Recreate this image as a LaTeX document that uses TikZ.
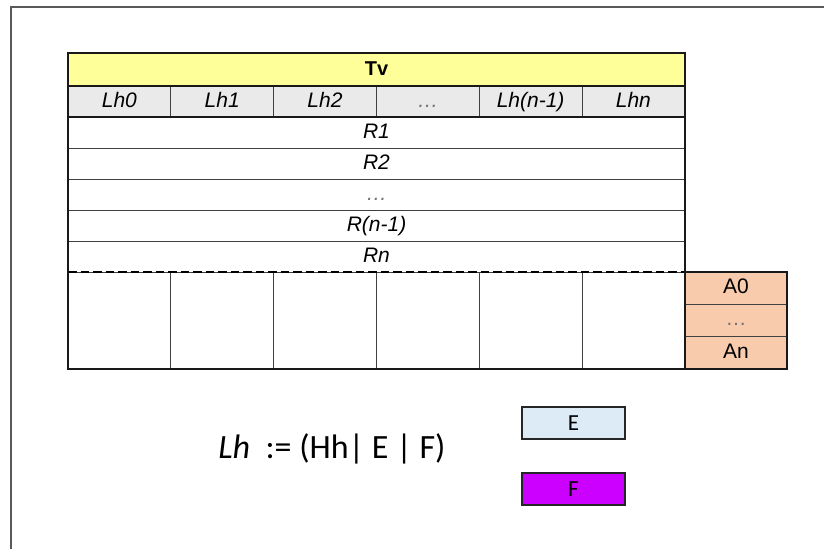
\documentclass[tikz,border=0pt]{standalone}
\usepackage{fontspec}
\setmainfont{Liberation Sans}
\newfontfamily\calibri{Carlito}
\usepackage{tikz}
\usetikzlibrary{positioning}

\definecolor{tvyellow}{HTML}{FFFF99}
\definecolor{lhgray}{HTML}{EAEAEA}
\definecolor{apeach}{HTML}{F8CBAD}
\definecolor{eblue}{HTML}{DDEBF7}
\definecolor{fpurple}{HTML}{CC00FF}

\begin{document}
\begin{tikzpicture}[
  x=1pt, y=-1pt,
  cell/.style={rectangle, draw=black!75, line width=0.9pt, fill=#1,
               minimum width=102.8pt, minimum height=31pt,
               inner sep=0pt, outer sep=0pt,
               text height=15pt, text depth=4pt,
               font=\fontsize{21}{24}\selectfont\itshape},
  cell/.default={white},
  rowcell/.style={cell=#1, minimum width=617pt},
  rowcell/.default={white},
  slot/.style={rectangle, minimum width=102.8pt, minimum height=97pt,
               inner sep=0pt, outer sep=0pt},
  acell/.style={cell=apeach, minimum width=102pt, minimum height=32.3pt,
                font=\fontsize{21}{24}\selectfont},
  legend/.style={rectangle, draw=black!85, line width=2pt, fill=#1,
                 minimum width=103pt, minimum height=32pt,
                 inner sep=0pt, font=\calibri\fontsize{23}{27}\selectfont},
  outer/.style={line width=2pt, black!90},
  grid/.style={line width=0.9pt, black!75},
  dashline/.style={line width=2.2pt, dash pattern=on 8.5pt off 4pt},
  frame/.style={line width=1.8pt, black!65},
  dots/.style={text=black!55}
]
  \useasboundingbox (0,0) rectangle (824,549);
  \draw[frame] (824,7) -- (11,7) -- (11,549);

  % header
  \node[rowcell=tvyellow, minimum height=33pt, anchor=north west,
        font=\fontsize{20}{24}\selectfont\bfseries] (tv) at (68,53) {Tv};
  \node[cell=lhgray, anchor=north west] (lh0) at (tv.south west) {Lh0};
  \node[cell=lhgray, right=0pt of lh0] (lh1) {Lh1};
  \node[cell=lhgray, right=0pt of lh1] (lh2) {Lh2};
  \node[cell=lhgray, right=0pt of lh2, dots] (lhd) {\dots};
  \node[cell=lhgray, right=0pt of lhd] (lhm) {Lh(n-1)};
  \node[cell=lhgray, right=0pt of lhm] (lhn) {Lhn};

  % rows
  \node[rowcell, anchor=north west] (r1) at (lh0.south west) {R1};
  \node[rowcell, below=0pt of r1] (r2) {R2};
  \node[rowcell, below=0pt of r2, dots] (rd) {\dots};
  \node[rowcell, below=0pt of rd] (rm) {R(n-1)};
  \node[rowcell, below=0pt of rm] (rn) {Rn};

  % open slots under the dashed line
  \node[slot, anchor=north west] (b0) at (rn.south west) {};
  \node[slot, right=0pt of b0] (b1) {};
  \node[slot, right=0pt of b1] (b2) {};
  \node[slot, right=0pt of b2] (b3) {};
  \node[slot, right=0pt of b3] (b4) {};
  \node[slot, right=0pt of b4] (b5) {};
  \foreach \i in {0,...,4}
    \draw[grid] (b\i.north east) -- (b\i.south east);

  % side column
  \node[acell, anchor=north west] (a0) at (rn.south east) {A0};
  \node[acell, below=0pt of a0, dots] (ad) {\dots};
  \node[acell, below=0pt of ad] (an) {An};

  \draw[dashline] (b0.north west) -- (b5.north east);
  \draw[outer] (tv.south west) -- (tv.south east);
  \draw[outer] (lh0.south west) -- (lhn.south east);
  \draw[outer] (tv.north west) rectangle (b5.south east);
  \draw[outer] (a0.north west) rectangle (an.south east);

  % definition and legend
  \node[font=\calibri\fontsize{34}{40}\selectfont] (rule) at (332,449)
    {\textit{Lh}~~:= (Hh|~E~|~F)};
  \node[legend=eblue] (e) at (573.5,423) {E};
  \node[legend=fpurple, below=32pt of e] (f) {F};
\end{tikzpicture}
\end{document}
